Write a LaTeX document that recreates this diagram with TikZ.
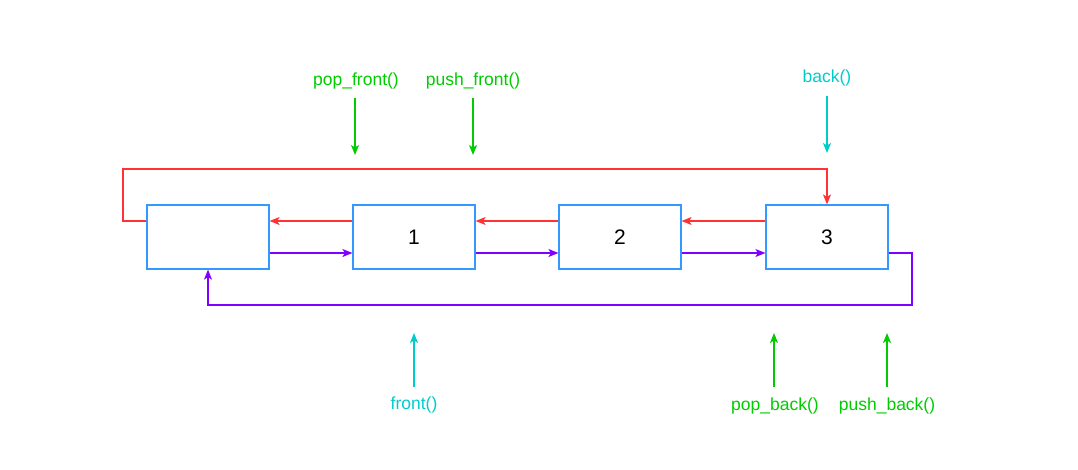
\documentclass[tikz,border=0pt]{standalone}
\usepackage{fontspec}
\setmainfont{Liberation Sans}
\usetikzlibrary{arrows.meta}
\definecolor{boxblue}{HTML}{3399FF}
\definecolor{lred}{HTML}{FF3333}
\definecolor{lpurple}{HTML}{7F00FF}
\definecolor{lgreen}{HTML}{00CC00}
\definecolor{lcyan}{HTML}{00CCCC}
\begin{document}
\begin{tikzpicture}[x=1pt,y=-1pt,
  cell/.style={draw=boxblue,line width=1.2pt,minimum width=122pt,minimum height=64pt,inner sep=0pt,font=\fontsize{21}{25}\selectfont},
  tip/.style={-{Stealth[length=10pt,width=8pt,inset=2.5pt]}},
  redl/.style={draw=lred,line width=1.3pt,tip,color=lred},
  purl/.style={draw=lpurple,line width=1.3pt,tip,color=lpurple},
  grn/.style={draw=lgreen,line width=1.3pt,tip,color=lgreen},
  cyn/.style={draw=lcyan,line width=1.3pt,tip,color=lcyan},
  lbl/.style={inner sep=0pt,font=\fontsize{17.5}{21}\selectfont},
]
\useasboundingbox (0,0) rectangle (1078,469);
\node[cell] (b0) at (208,237) {};
\node[cell] (b1) at (414,237) {1};
\node[cell] (b2) at (620,237) {2};
\node[cell] (b3) at (827,237) {3};
% red backward links (upper)
\draw[redl] ([yshift=16pt]b1.west) -- ([yshift=16pt]b0.east);
\draw[redl] ([yshift=16pt]b2.west) -- ([yshift=16pt]b1.east);
\draw[redl] ([yshift=16pt]b3.west) -- ([yshift=16pt]b2.east);
% purple forward links (lower)
\draw[purl] ([yshift=-16pt]b0.east) -- ([yshift=-16pt]b1.west);
\draw[purl] ([yshift=-16pt]b1.east) -- ([yshift=-16pt]b2.west);
\draw[purl] ([yshift=-16pt]b2.east) -- ([yshift=-16pt]b3.west);
% loops
\draw[redl] ([yshift=16pt]b0.west) -| (123,169) -| (b3.north);
\draw[purl] ([yshift=-16pt]b3.east) -| (912,305) -| (b0.south);
% labels
\node[lbl,text=lgreen] (popf) at (356,81) {pop\_front()};
\node[lbl,text=lgreen] (pushf) at (473,81) {push\_front()};
\node[lbl,text=lcyan] (backl) at (827,78) {back()};
\node[lbl,text=lcyan] (frontl) at (414,405) {front()};
\node[lbl,text=lgreen] (popb) at (775,406) {pop\_back()};
\node[lbl,text=lgreen] (pushb) at (887,406) {push\_back()};
\coordinate (popfe) at (355,155);
\coordinate (pushfe) at (473,155);
\coordinate (backe) at (827,153);
\coordinate (fronte) at (414,333);
\coordinate (popbe) at (774,333);
\coordinate (pushbe) at (887,333);
\draw[grn] (355,98) -- (popfe);
\draw[grn] (473,98) -- (pushfe);
\draw[cyn] (827,96) -- (backe);
\draw[cyn] (414,387) -- (fronte);
\draw[grn] (774,387) -- (popbe);
\draw[grn] (887,387) -- (pushbe);
\end{tikzpicture}
\end{document}
